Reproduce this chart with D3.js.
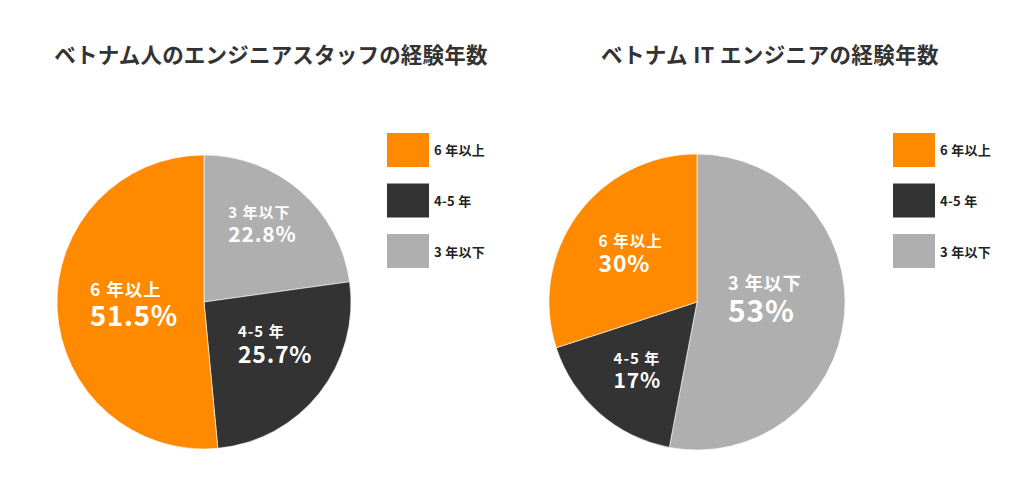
<!DOCTYPE html>
<html>
<head>
<meta charset="utf-8">
<script src="https://cdn.jsdelivr.net/npm/d3@7"></script>
<style>
  html, body { margin: 0; padding: 0; background: #fff; }
  svg { display: block; font-family: "Noto Sans CJK JP", "Noto Sans", sans-serif; }
</style>
</head>
<body>
<svg id="chart"></svg>
<script>
// data
const categories = ["3 年以下", "4-5 年", "6 年以上"];
const staffValues = [22.8, 25.7, 51.5];
const itValues = [53, 17, 30];
const legendOrder = ["6 年以上", "4-5 年", "3 年以下"];
const titles = ["ベトナム人のエンジニアスタッフの経験年数", "ベトナム IT エンジニアの経験年数"];

document.addEventListener("DOMContentLoaded", function() {
  const width = 1024, height = 492;
  const svg = d3.select("#chart").attr("width", width).attr("height", height);

  const color = d3.scaleOrdinal()
      .domain(categories)
      .range(["#afafaf", "#333333", "#ff8a00"]);

  // layout for each pie: position, label placement (angle deg, radius) and label sizes
  const charts = [
    { values: staffValues, title: titles[0], cx: 204, cy: 302, r: 147, titleX: 271, legendX: 387, spacing: 0.2,
      labelAt: [[37, 97], [121, 83], [268, 70]], big: [21, 23, 27.5], small: [15, 15, 17.5] },
    { values: itValues, title: titles[1], cx: 697, cy: 302, r: 148, titleX: 770, legendX: 893, spacing: 0.4,
      labelAt: [[88, 68], [221, 91], [306, 82]], big: [30, 21, 23], small: [18, 15, 15.5] }
  ];

  const pie = d3.pie().sort(null).value(d => d.value);

  charts.forEach(c => {
    const data = categories.map((k, i) => ({ key: k, value: c.values[i], i: i }));
    const arcs = pie(data);
    const arc = d3.arc().innerRadius(0).outerRadius(c.r);

    svg.append("text")
        .attr("x", c.titleX)
        .attr("y", 53)
        .attr("text-anchor", "middle")
        .attr("dominant-baseline", "central")
        .attr("font-size", 21.5)
        .attr("letter-spacing", c.spacing)
        .attr("font-weight", "bold")
        .attr("fill", "#333")
        .text(c.title);

    const g = svg.append("g").attr("transform", `translate(${c.cx},${c.cy})`);

    g.selectAll("path")
        .data(arcs)
        .enter()
        .append("path")
        .attr("d", arc)
        .attr("fill", d => color(d.data.key))
        .attr("stroke", "#fff")
        .attr("stroke-opacity", 0.6)
        .attr("stroke-width", 1);

    arcs.forEach(d => {
      const i = d.data.i;
      const [ang, rad] = c.labelAt[i];
      const [px, py] = d3.pointRadial(ang * Math.PI / 180, rad);
      const gap = c.small[i] * 0.4 + c.big[i] * 0.85;
      const lg = g.append("g");
      const t1 = lg.append("text")
          .attr("x", 0).attr("y", 0)
          .attr("font-size", c.small[i])
          .attr("font-weight", "bold")
          .attr("fill", "#fff")
          .attr("letter-spacing", 1)
          .text(d.data.key);
      const t2 = lg.append("text")
          .attr("x", 0).attr("y", gap)
          .attr("font-size", c.big[i])
          .attr("font-weight", "bold")
          .attr("letter-spacing", 0.8)
          .attr("fill", "#fff")
          .text(`${d.data.value}%`);
      const w = Math.max(t1.node().getComputedTextLength(), t2.node().getComputedTextLength());
      const top = -0.72 * c.small[i];
      lg.attr("transform", `translate(${px - w / 2},${py - (top + gap) / 2})`);
    });

    const y = d3.scaleBand()
        .domain(legendOrder)
        .range([133, 268])
        .paddingInner(0.327);

    const legend = svg.append("g");
    legend.selectAll("rect")
        .data(legendOrder)
        .enter()
        .append("rect")
        .attr("x", c.legendX)
        .attr("y", d => y(d))
        .attr("width", 42)
        .attr("height", y.bandwidth())
        .attr("fill", d => color(d));
    legend.selectAll("text")
        .data(legendOrder)
        .enter()
        .append("text")
        .attr("x", c.legendX + 47)
        .attr("y", d => y(d) + y.bandwidth() / 2)
        .attr("dominant-baseline", "central")
        .attr("font-size", 13)
        .attr("letter-spacing", 0.3)
        .attr("font-weight", "bold")
        .attr("fill", "#222")
        .text(d => d);
  });
});
</script>
</body>
</html>
